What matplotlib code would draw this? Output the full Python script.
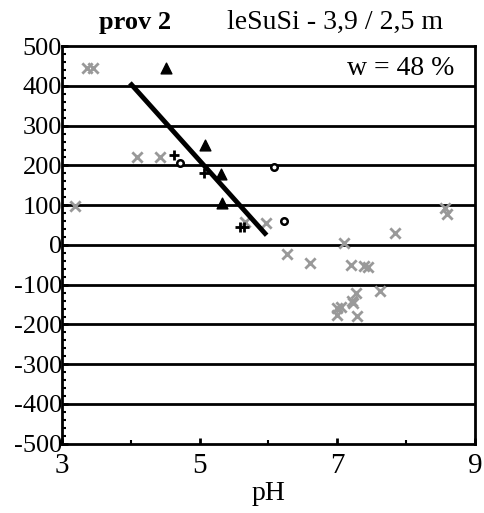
import numpy as np
import matplotlib.pyplot as plt
from matplotlib.ticker import MultipleLocator

plt.rcParams['font.family'] = ['Liberation Serif', 'DejaVu Serif']

# gray crosses
grey_ph = [3.36, 3.45, 3.19, 4.09, 4.42, 5.66, 5.96, 6.27, 6.61, 7.10, 7.20, 7.39, 7.45,
           7.62, 7.84, 8.57, 8.59, 6.99, 7.00, 7.06, 7.21, 7.28, 7.23, 7.29]
grey_val = [444, 444, 99, 221, 221, 59, 56, -23, -46, 4, -50, -53, -56,
            -115, 29, 92, 78, -176, -159, -155, -140, -122, -147, -178]
# black triangles
tri_ph = [4.51, 5.08, 5.31, 5.33]
tri_val = [444, 252, 179, 105]
# black pluses
plus_ph = [4.63, 5.06, 5.59, 5.65]
plus_val = [226, 180, 46, 45]
# open circles
circ_ph = [4.72, 6.08, 6.22]
circ_val = [205, 195, 60]
# regression line ends
line_ph = [4.01, 5.95]
line_val = [403, 29]

fig = plt.figure(figsize=(4.85, 5.13), dpi=100)
ax = fig.add_axes([0.128, 0.135, 0.851, 0.775])

for v in range(-400, 500, 100):
    ax.axhline(v, color='black', lw=2, zorder=1)

ax.scatter(grey_ph, grey_val, marker='x', s=55, color='#999999', linewidths=2, zorder=3)
ax.scatter(tri_ph, tri_val, marker='^', s=60, color='black', zorder=4)
ax.scatter(plus_ph, plus_val, marker='+', s=60, color='black', linewidths=2, zorder=4)
ax.scatter(circ_ph, circ_val, marker='o', s=22, facecolors='white', edgecolors='black',
           linewidths=1.8, zorder=4)
ax.plot(line_ph, line_val, color='black', lw=3.5, zorder=5)

ax.set_xlim(3, 9)
ax.set_ylim(-500, 500)
ax.set_xticks([3, 5, 7, 9])
ax.xaxis.set_minor_locator(MultipleLocator(1))
ax.set_yticks(range(-500, 501, 100))
ax.set_yticklabels([str(v) for v in range(-500, 501, 100)])
ax.yaxis.set_minor_locator(MultipleLocator(20))
ax.tick_params(which='major', direction='in', length=4, width=2)
ax.tick_params(axis='y', which='major', labelsize=19, pad=0)
ax.tick_params(axis='x', which='major', labelsize=21, pad=7)
ax.tick_params(which='minor', direction='in', length=3, width=1.5)
for s in ax.spines.values():
    s.set_linewidth(2)

ax.set_xlabel('pH', fontsize=20, labelpad=1)
ax.text(0.95, 0.945, 'w = 48 %', transform=ax.transAxes, ha='right', va='center', fontsize=20)
fig.text(0.278, 0.957, 'prov 2', fontsize=19, fontweight='bold', ha='center', va='center')
fig.text(0.69, 0.957, 'leSuSi - 3,9 / 2,5 m', fontsize=20, ha='center', va='center')

fig.savefig('out.png', dpi=100)
